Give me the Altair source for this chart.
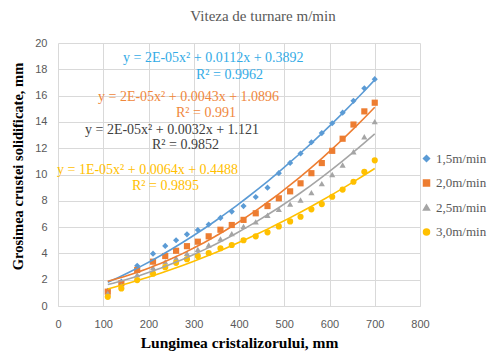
import altair as alt
import pandas as pd

# ---- data ----
x_vals = [110, 140, 175, 210, 237, 261, 285, 309, 333, 359, 384, 410,
          437, 463, 488, 513, 536, 560, 583, 606, 629, 653, 677, 700]
s15 = [1.15, 1.85, 3.06, 3.98, 4.57, 5.0, 5.45, 5.78, 6.2, 6.7, 7.18, 7.6,
       8.29, 9.0, 10.1, 10.88, 11.6, 12.45, 13.15, 13.9, 14.7, 15.6, 16.55, 17.25]
s20 = [1.09, 1.73, 2.74, 3.37, 3.8, 4.2, 4.55, 4.89, 5.3, 5.8, 6.16, 6.55,
       7.05, 7.6, 8.19, 8.72, 9.33, 10.1, 10.87, 11.8, 12.72, 13.8, 14.8, 15.46]
s25 = [0.95, 1.55, 2.38, 2.92, 3.35, 3.65, 4.0, 4.3, 4.64, 5.1, 5.5, 6.05,
       6.4, 6.9, 7.35, 7.75, 8.06, 8.62, 9.3, 10.0, 10.72, 11.73, 12.87, 14.02]
s30 = [0.7, 1.33, 1.97, 2.46, 2.95, 3.28, 3.56, 3.81, 4.03, 4.39, 4.64, 5.0,
       5.3, 5.6, 6.05, 6.43, 6.79, 7.35, 7.75, 8.31, 8.85, 9.45, 10.2, 11.08]

series_names = ["1,5m/min", "2,0m/min", "2,5m/min", "3,0m/min"]
series_colors = ["#5B9BD5", "#ED7D31", "#A5A5A5", "#FFC000"]
series_shapes = ["diamond", "square", "triangle-up", "circle"]

eq_lines = ["y = 2E-05x² + 0.0112x + 0.3892", "R² = 0.9962",
            "y = 2E-05x² + 0.0043x + 1.0896", "R² = 0.991",
            "y = 2E-05x² + 0.0032x + 1.121", "R² = 0.9852",
            "y = 1E-05x² + 0.0064x + 0.4488", "R² = 0.9895"]
eq_colors = ["#33ABE6", "#33ABE6", "#F0873C", "#F0873C",
             "#404040", "#404040", "#FFC000", "#FFC000"]
# layout: left edge / vertical centre of each label, pixels inside plot area
eq_px = [65, 138, 40, 118, 27, 94, -1, 74]
eq_py = [15, 32, 54, 70, 87, 102, 127, 143]

x_ticks = list(range(0, 801, 100))
y_ticks = list(range(0, 21, 2))

rows = []
for name, vals in zip(series_names, [s15, s20, s25, s30]):
    for xv, yv in zip(x_vals, vals):
        rows.append({"x": xv, "y": yv, "series": name})
df = pd.DataFrame(rows)

W, H = 362, 263
serif = "Liberation Serif"

color_scale = alt.Scale(domain=series_names, range=series_colors)
shape_scale = alt.Scale(domain=series_names, range=series_shapes)

x_enc = alt.X("x:Q", scale=alt.Scale(domain=[0, 800], nice=False),
              axis=alt.Axis(values=x_ticks, title="Lungimea cristalizorului, mm",
                            titlePadding=6, labelFlush=False, labelOverlap=False))
y_enc = alt.Y("y:Q", scale=alt.Scale(domain=[0, 20], nice=False),
              axis=alt.Axis(values=y_ticks, title="Grosimea crustei solidificate, mm",
                            titlePadding=9, titleY=123, labelFlush=False, labelOverlap=False))

leg = alt.Legend(title=None, orient="none", legendX=362, legendY=109,
                 symbolSize=36, rowPadding=10.5,
                 labelFont=serif, labelFontSize=13,
                 labelColor="#595959", labelOffset=3)

points = alt.Chart(df).mark_point(filled=True, size=38, opacity=1).encode(
    x=x_enc, y=y_enc,
    color=alt.Color("series:N", scale=color_scale, legend=leg),
    shape=alt.Shape("series:N", scale=shape_scale, legend=leg),
)

trend = alt.Chart(df).transform_regression(
    "x", "y", method="poly", order=2, groupby=["series"]
).mark_line(strokeWidth=1.6).encode(
    x=x_enc, y=y_enc,
    color=alt.Color("series:N", scale=color_scale, legend=None),
)

eq_df = pd.DataFrame({"t": eq_lines, "c": eq_colors, "px": eq_px, "py": eq_py})
eqs = alt.Chart(eq_df).mark_text(font=serif, fontSize=14, baseline="middle", align="left").encode(
    text="t:N",
    x=alt.X("px:Q", scale=None),
    y=alt.Y("py:Q", scale=None),
    color=alt.Color("c:N", scale=None),
)

chart = alt.layer(points, trend, eqs).properties(
    width=W, height=H,
    autosize=alt.AutoSizeParams(type="none"),
    padding={"left": 58, "top": 43, "right": 497 - 58 - W, "bottom": 356 - 43 - H},
    title=alt.Title("Viteza de turnare m/min", font=serif, fontSize=15, fontWeight="normal",
                    color="#595959", anchor="middle", dx=24, offset=13),
    background="white",
).configure_view(stroke=None).configure_axis(
    grid=True, gridColor="#D9D9D9", gridWidth=1,
    domain=False, ticks=False,
    labelFont="Liberation Sans", labelFontSize=11, labelColor="#595959",
    titleFont=serif, titleFontWeight="bold", titleColor="#000000",
).configure_axisX(labelPadding=12, titleFontSize=15.5, domain=True, domainColor="#D9D9D9").configure_axisY(
    labelPadding=11, titleFontSize=14.5)

chart.save("out.html", embed_options={"renderer": "svg", "actions": False})
